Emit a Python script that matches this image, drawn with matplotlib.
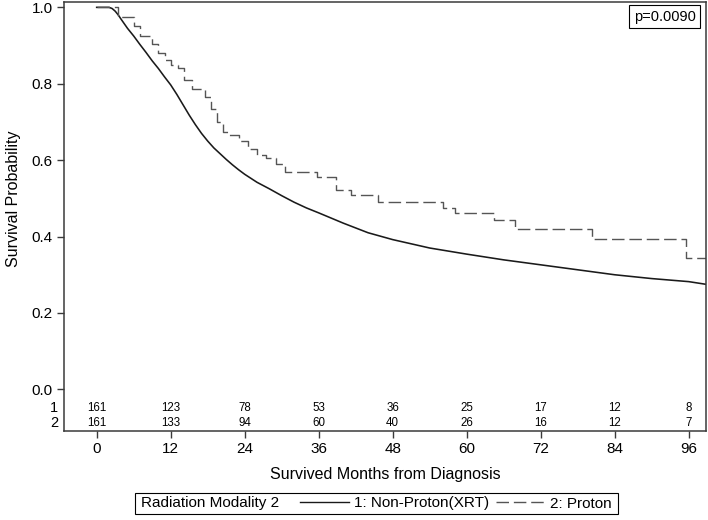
import matplotlib
matplotlib.use("Agg")
import matplotlib.pyplot as plt
from matplotlib.lines import Line2D
from matplotlib.patches import Rectangle
import matplotlib.transforms as mtransforms

plt.rcParams["font.family"] = ["Liberation Sans", "DejaVu Sans"]

# Non-Proton (XRT) curve
xrt_months = [0, 1, 2, 2.5, 3, 3.5, 4, 5, 6, 7, 8, 9, 10, 11, 12, 13, 14, 15, 16, 17,
              18, 19, 20, 21, 22, 23, 24, 26, 28, 30, 32, 34, 36, 40, 44, 48, 54,
              60, 66, 72, 78, 84, 90, 96, 98.8]
xrt_surv = [1.0, 1.0, 1.0, 0.997, 0.99, 0.98, 0.968, 0.945, 0.925, 0.903, 0.882, 0.86,
            0.84, 0.818, 0.797, 0.772, 0.745, 0.718, 0.693, 0.67, 0.65, 0.632, 0.617,
            0.602, 0.588, 0.575, 0.563, 0.542, 0.525, 0.507, 0.49, 0.475, 0.462, 0.435,
            0.41, 0.392, 0.37, 0.354, 0.339, 0.326, 0.313, 0.300, 0.29, 0.282, 0.275]

# Proton curve (Kaplan-Meier steps)
proton_months = [0, 3.5, 6.0, 7.0, 9.0, 10.0, 11.0, 12.0, 13.2, 14.2, 15.5, 17.5, 18.5,
                 19.5, 20.5, 21.5, 23.0, 24.5, 26.0, 27.5, 29.0, 30.6, 35.7, 38.8, 41.3,
                 45.6, 56.2, 58.1, 64.4, 67.9, 80.3, 95.5, 98.8]
proton_surv = [1.0, 0.975, 0.95, 0.925, 0.905, 0.88, 0.862, 0.85, 0.84, 0.81, 0.785,
               0.765, 0.735, 0.70, 0.675, 0.665, 0.65, 0.63, 0.613, 0.605, 0.59, 0.57,
               0.557, 0.522, 0.509, 0.491, 0.474, 0.461, 0.443, 0.421, 0.393, 0.343, 0.343]

# numbers at risk
risk_months = [0, 12, 24, 36, 48, 60, 72, 84, 96]
risk_xrt = [161, 123, 78, 53, 36, 25, 17, 12, 8]
risk_proton = [161, 133, 94, 60, 40, 26, 16, 12, 7]

W, H = 708, 520
fig = plt.figure(figsize=(W / 100, H / 100), dpi=100)
ax = fig.add_axes([64 / W, 89 / H, (706 - 64) / W, (518 - 89) / H])

frame_col = "#3a3a3a"
ax.plot(xrt_months, xrt_surv, color="#1a1a1a", lw=1.15)
ax.plot(proton_months, proton_surv, color="#555555", lw=1.0,
        drawstyle="steps-post", dashes=(9, 3.5))

ax.set_xlim(-5.3, 98.8)
ax.set_ylim(-0.109, 1.014)
ax.set_xticks(risk_months)
ax.set_yticks([0, 0.2, 0.4, 0.6, 0.8, 1.0])
ax.set_yticklabels(["0.0", "0.2", "0.4", "0.6", "0.8", "1.0"])
ax.tick_params(direction="out", length=5, width=1, color=frame_col,
               labelsize=11, pad=3)
for s in ax.spines.values():
    s.set_color(frame_col)
    s.set_linewidth(1.1)

# at-risk table inside the axes
for m, a, b in zip(risk_months, risk_xrt, risk_proton):
    ax.text(m, -0.048, str(a), ha="center", va="center", fontsize=8.3)
    ax.text(m, -0.089, str(b), ha="center", va="center", fontsize=8.3)
trans = mtransforms.blended_transform_factory(ax.transAxes, ax.transData)
ax.text(-0.009, -0.048, "1", transform=trans, ha="right", va="center", fontsize=10.5)
ax.text(-0.009, -0.089, "2", transform=trans, ha="right", va="center", fontsize=10.5)

fig.text(14 / W, 1 - 199 / H, "Survival Probability", rotation=90,
         ha="center", va="center", fontsize=11.5)
fig.text(385 / W, 1 - 475 / H, "Survived Months from Diagnosis",
         ha="center", va="center", fontsize=11.5)

fig.text(664.5 / W, 1 - 16.5 / H, "p=0.0090", ha="center", va="center", fontsize=10.5,
         bbox=dict(boxstyle="square,pad=0.3", fc="white", ec="black", lw=0.8))

# legend strip at the bottom
fig.add_artist(Rectangle((135 / W, 1 - 514 / H), (618 - 135) / W, 21 / H,
                         transform=fig.transFigure, fill=False, ec="black", lw=0.8))
fig.text(141 / W, 1 - 503.5 / H, "Radiation Modality 2", ha="left", va="center",
         fontsize=11)
handles = [Line2D([], [], color="#1a1a1a", lw=1.0),
           Line2D([], [], color="#555555", lw=1.0, dashes=(9, 3.5))]
fig.legend(handles, ["1: Non-Proton(XRT)", "2: Proton"], ncol=2, frameon=False,
           loc="center left", bbox_to_anchor=(300 / W, 1 - 503.5 / H),
           fontsize=11, handlelength=3.2, handletextpad=0.33, columnspacing=0.45,
           borderpad=0, borderaxespad=0)

fig.savefig("out.png", dpi=100)
